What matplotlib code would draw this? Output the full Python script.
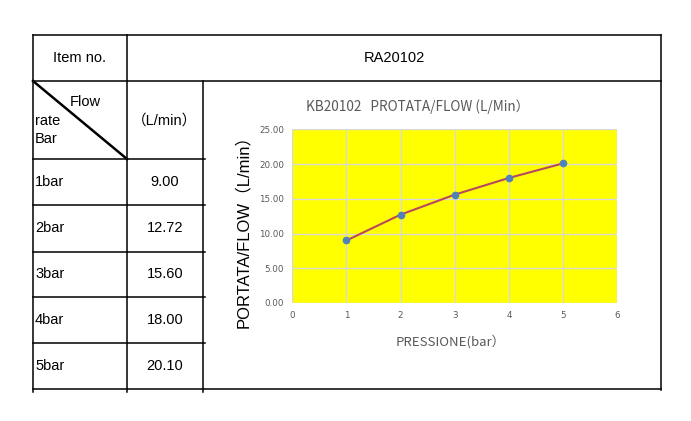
import numpy as np
import matplotlib.pyplot as plt

item_no = 'RA20102'
bar_labels = ['1bar', '2bar', '3bar', '4bar', '5bar']
pressure = [1, 2, 3, 4, 5]
flow = [9.00, 12.72, 15.60, 18.00, 20.10]

fig = plt.figure(figsize=(6.91, 4.21), dpi=100)

# full-figure overlay in pixel coordinates for the table
tab = fig.add_axes([0, 0, 1, 1])
tab.set_xlim(0, 691)
tab.set_ylim(421, 0)
tab.axis('off')

x0, x1, x2, x3 = 33, 127, 203, 661
rows = [159, 205, 252, 297, 343, 389]
lw = 1.1
k = 'black'

tab.plot([x0, x3], [35, 35], color=k, lw=lw)
tab.plot([x0, x3], [81, 81], color=k, lw=lw)
tab.plot([x0, x3], [389, 389], color=k, lw=lw)
tab.plot([x0, x0], [35, 392], color=k, lw=lw)
tab.plot([x1, x1], [35, 392], color=k, lw=lw)
tab.plot([x2, x2], [81, 392], color=k, lw=lw)
tab.plot([x3, x3], [35, 390], color=k, lw=lw)
for r in rows[:-1]:
    tab.plot([x0, x2 + 2], [r, r], color=k, lw=lw)
tab.plot([x0, x1], [81, 159], color=k, lw=1.8)

font = 'Liberation Sans'
fs = 10.5
tab.text((x0 + x1) / 2, 58, 'Item no.', ha='center', va='center', fontsize=fs, family=font)
tab.text((x1 + x3) / 2, 58, item_no, ha='center', va='center', fontsize=fs, family=font)
tab.text(85, 102, 'Flow', ha='center', va='center', fontsize=fs, family=font)
tab.text(35, 121, 'rate', ha='left', va='center', fontsize=fs, family=font)
tab.text(35, 139, 'Bar', ha='left', va='center', fontsize=fs, family=font)
tab.text(165, 121, '（L/min）', ha='center', va='center', fontsize=fs,
         family=['Liberation Sans', 'Noto Sans CJK SC'])
for i, (lab, v) in enumerate(zip(bar_labels, flow)):
    yc = (rows[i] + rows[i + 1]) / 2
    tab.text(35, yc, lab, ha='left', va='center', fontsize=fs, family=font)
    tab.text(165, yc, f'{v:.2f}', ha='center', va='center', fontsize=fs, family=font)

# chart
left, right, top, bottom = 292.3, 617.3, 129.3, 303
ax = fig.add_axes([left / 691, 1 - bottom / 421, (right - left) / 691, (bottom - top) / 421])
ax.set_facecolor('#FFFF00')
ax.plot(pressure, flow, color='#B8485E', lw=1.5, marker='o', markersize=4.5,
        markerfacecolor='#4F81BD', markeredgecolor='#4F81BD', zorder=3)
ax.set_xlim(0, 6)
ax.set_ylim(0, 25)
ax.set_xticks(range(0, 7))
ax.set_yticks(np.arange(0, 26, 5))
ax.set_yticklabels([f'{t:.2f}' for t in np.arange(0, 26, 5)])
ax.grid(True, color='#D9D9D9', lw=1)
ax.set_axisbelow(True)
for s in ax.spines.values():
    s.set_visible(False)
ax.tick_params(length=0, labelsize=6.3, labelcolor='#595959', pad=6)
for t in ax.get_xticklabels() + ax.get_yticklabels():
    t.set_family('Liberation Sans Narrow')

cjk = ['Noto Sans CJK SC', 'DejaVu Sans']
tab.text(418, 107, 'KB20102   PROTATA/FLOW (L/Min）', ha='center', va='center',
         fontsize=9.8, color='#595959', family=cjk)
tab.text(451, 342, 'PRESSIONE(bar）', ha='center', va='center',
         fontsize=9.5, color='#595959', family=cjk)
tab.text(243.5, 227, 'PORTATA/FLOW（L/min）', ha='center', va='center', rotation=90,
         fontsize=12, color='black', family=['Liberation Sans', 'Noto Sans CJK SC'])

fig.savefig('out.png', dpi=100)
